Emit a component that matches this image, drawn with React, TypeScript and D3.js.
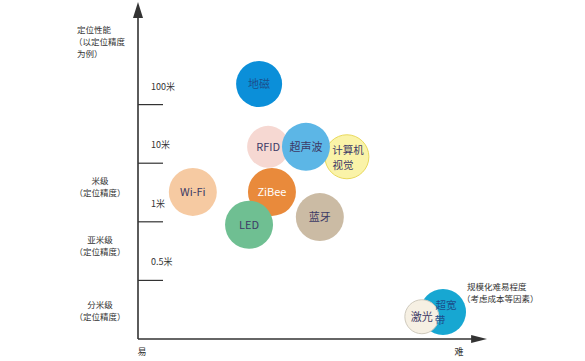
import * as d3 from "d3";

// 定位技术：规模化难易程度 (x) vs 定位精度级别 (y)
const techNames = ["地磁", "RFID", "计算机视觉", "超声波", "Wi-Fi", "ZiBee", "LED", "蓝牙", "超宽带", "激光"];
const difficulty = [3.49, 3.75, 6.02, 4.84, 1.58, 3.86, 3.2, 5.24, 8.79, 8.18];
const accuracyLevel = [4.35, 3.28, 3.11, 3.28, 2.51, 2.51, 1.95, 2.08, 0.46, 0.38];

const tickLevels = [4, 3, 2, 1];
const tickLabels = ["100米", "10米", "1米", "0.5米"];

const bandNames = ["米级", "亚米级", "分米级"];
const bandLevels = [2.6, 1.58, 0.48];

const W = 585;
const H = 361;

const fills: Record<string, string> = {
  地磁: "#0b8fd9",
  RFID: "#f6d8d2",
  计算机视觉: "#faf3a8",
  超声波: "#5cb6e6",
  "Wi-Fi": "#f6caa2",
  ZiBee: "#e98a3b",
  LED: "#6fbf92",
  蓝牙: "#cbbba4",
  超宽带: "#17a7d2",
  激光: "#f6f0e3",
};
const strokes: Record<string, string> = {
  计算机视觉: "#e9d95c",
  激光: "#cfcabd",
};
const radii: Record<string, number> = { 地磁: 23, RFID: 21, 计算机视觉: 22, 超宽带: 23, 激光: 17 };

export default function App() {
  const x = d3.scaleLinear().domain([0, 10]).range([138, 485]);
  const y = d3.scaleLinear().domain([0, 5.7]).range([339, 5]);
  const font = "'Noto Sans CJK SC', 'Noto Sans', sans-serif";
  const ink = "#333";
  const x0 = x(0);
  const y0 = y(0);

  return (
    <svg width={W} height={H} style={{ position: "absolute", left: 0, top: 0, background: "#fff" }} fontFamily={font}>
      {/* axes */}
      <line x1={x0} y1={y0} x2={x0} y2={14} stroke={ink} strokeWidth={1.6} />
      <path d={`M${x0},2 L${x0 - 5},18 L${x0 + 5},18 Z`} fill={ink} />
      <line x1={x0} y1={y0} x2={x(9.7)} y2={y0} stroke={ink} strokeWidth={1.6} />
      <path d={`M${x(10) + 2},${y0} L${x(9.6)},${y0 - 4} L${x(9.6)},${y0 + 4} Z`} fill={ink} />

      {/* ticks */}
      {tickLevels.map((lv, i) => (
        <g key={tickLabels[i]}>
          <line x1={x0} x2={x0 + 25} y1={y(lv)} y2={y(lv)} stroke={ink} strokeWidth={1.2} />
          <text x={x0 + 13} y={y(lv) - 15} fontSize={9} fill={ink}>
            {tickLabels[i]}
          </text>
        </g>
      ))}

      {/* y title */}
      <g fontSize={8.5} fill={ink}>
        <text x={77} y={33}>定位性能</text>
        <text x={74} y={45}>（以定位精度</text>
        <text x={77} y={57}>为例）</text>
      </g>

      {/* band labels */}
      {bandNames.map((b, i) => (
        <g key={b} fontSize={8.5} fill={ink} textAnchor="middle">
          <text x={100} y={y(bandLevels[i]) - 3}>{b}</text>
          <text x={100} y={y(bandLevels[i]) + 9}>（定位精度）</text>
        </g>
      ))}

      {/* x labels */}
      <text x={x0 + 4} y={355} fontSize={9} fill={ink} textAnchor="middle">易</text>
      <text x={x(9.25)} y={355} fontSize={9} fill={ink} textAnchor="middle">难</text>
      <g fontSize={8.5} fill={ink}>
        <text x={467} y={290}>规模化难易程度</text>
        <text x={462} y={302}>（考虑成本等因素）</text>
      </g>

      {/* bubbles */}
      {techNames.map((n, i) => {
        const cx = x(difficulty[i]);
        const cy = y(accuracyLevel[i]);
        const r = radii[n] ?? 24;
        return (
          <circle key={n} cx={cx} cy={cy} r={r} fill={fills[n]} stroke={strokes[n] ?? "none"} strokeWidth={1} />
        );
      })}
      {techNames.map((n, i) => {
        const cx = x(difficulty[i]);
        const cy = y(accuracyLevel[i]);
        const col = n === "地磁" ? "#1b4f8c" : n === "ZiBee" ? "#fff" : "#3d3a66";
        if (n === "计算机视觉") {
          return (
            <g key={n} fontSize={10.5} fill={col} textAnchor="middle">
              <text x={cx + 1} y={cy - 3}>计算机</text>
              <text x={cx - 4} y={cy + 12}>视觉</text>
            </g>
          );
        }
        if (n === "超宽带") {
          return (
            <g key={n} fontSize={10.5} fill="#1b4f8c" textAnchor="middle">
              <text x={cx + 3} y={cy - 3}>超宽</text>
              <text x={cx - 3} y={cy + 12}>带</text>
            </g>
          );
        }
        return (
          <text key={n} x={cx} y={cy + 4} fontSize={11} fill={col} textAnchor="middle">
            {n}
          </text>
        );
      })}
    </svg>
  );
}
